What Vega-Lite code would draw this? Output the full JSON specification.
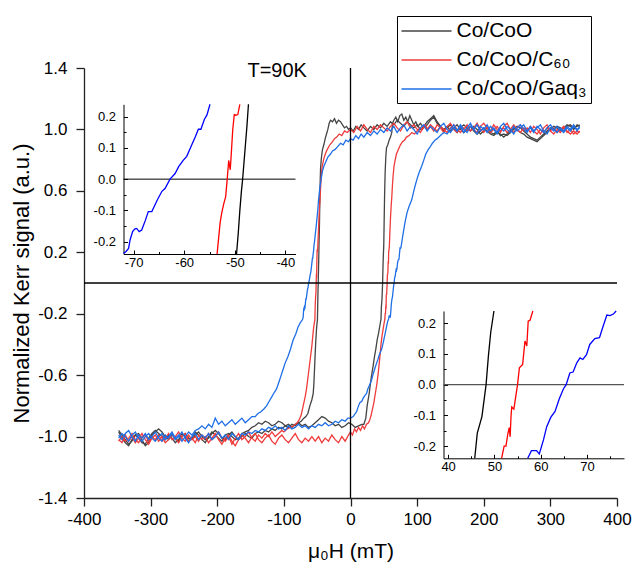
{
"$schema":"https://vega.github.io/schema/vega-lite/v6.json",
"width":533,"height":430,
"autosize":{"type":"none"},
"padding":{"left":84,"top":68,"right":17,"bottom":69},
"background":"white",
"config":{"font":"Liberation Sans","view":{"stroke":null},"axis":{"grid":false,"labelFlush":false,"labelOverlap":false,"labelBound":false,"labelColor":"black","titleColor":"black","titleFontWeight":"normal","domainColor":"#222222","tickColor":"#222222"}},
"datasets":{
"loops":[
{"s":"a","b":"u","h":-348,"m":-0.97},{"s":"a","b":"u","h":-343,"m":-1.01},{"s":"a","b":"u","h":-338,"m":-1.04},{"s":"a","b":"u","h":-333,"m":-1.06},{"s":"a","b":"u","h":-328,"m":-1.02},{"s":"a","b":"u","h":-323,"m":-0.99},{"s":"a","b":"u","h":-318,"m":-1.01},{"s":"a","b":"u","h":-313,"m":-1.04},{"s":"a","b":"u","h":-308,"m":-1.05},{"s":"a","b":"u","h":-303,"m":-1.01},{"s":"a","b":"u","h":-298,"m":-0.98},{"s":"a","b":"u","h":-293,"m":-0.96},{"s":"a","b":"u","h":-288,"m":-0.98},{"s":"a","b":"u","h":-283,"m":-1.0},{"s":"a","b":"u","h":-278,"m":-1.02},{"s":"a","b":"u","h":-273,"m":-0.99},{"s":"a","b":"u","h":-268,"m":-1.01},{"s":"a","b":"u","h":-263,"m":-1.04},{"s":"a","b":"u","h":-258,"m":-1.02},{"s":"a","b":"u","h":-253,"m":-0.98},{"s":"a","b":"u","h":-248,"m":-1.0},{"s":"a","b":"u","h":-243,"m":-1.03},{"s":"a","b":"u","h":-238,"m":-1.01},{"s":"a","b":"u","h":-233,"m":-0.97},{"s":"a","b":"u","h":-228,"m":-0.99},{"s":"a","b":"u","h":-223,"m":-1.02},{"s":"a","b":"u","h":-218,"m":-1.04},{"s":"a","b":"u","h":-213,"m":-1.0},{"s":"a","b":"u","h":-208,"m":-0.97},{"s":"a","b":"u","h":-203,"m":-0.99},{"s":"a","b":"u","h":-198,"m":-1.01},{"s":"a","b":"u","h":-193,"m":-1.03},{"s":"a","b":"u","h":-188,"m":-0.99},{"s":"a","b":"u","h":-183,"m":-0.98},{"s":"a","b":"u","h":-178,"m":-1.0},{"s":"a","b":"u","h":-173,"m":-1.02},{"s":"a","b":"u","h":-168,"m":-1.01},{"s":"a","b":"u","h":-163,"m":-0.98},{"s":"a","b":"u","h":-158,"m":-0.97},{"s":"a","b":"u","h":-153,"m":-0.96},{"s":"a","b":"u","h":-148,"m":-0.94},{"s":"a","b":"u","h":-143,"m":-0.93},{"s":"a","b":"u","h":-138,"m":-0.91},{"s":"a","b":"u","h":-133,"m":-0.92},{"s":"a","b":"u","h":-128,"m":-0.9},{"s":"a","b":"u","h":-123,"m":-0.91},{"s":"a","b":"u","h":-118,"m":-0.93},{"s":"a","b":"u","h":-113,"m":-0.92},{"s":"a","b":"u","h":-108,"m":-0.9},{"s":"a","b":"u","h":-103,"m":-0.91},{"s":"a","b":"u","h":-98,"m":-0.93},{"s":"a","b":"u","h":-93,"m":-0.92},{"s":"a","b":"u","h":-88,"m":-0.94},{"s":"a","b":"u","h":-83,"m":-0.92},{"s":"a","b":"u","h":-78,"m":-0.91},{"s":"a","b":"u","h":-73,"m":-0.93},{"s":"a","b":"u","h":-68,"m":-0.92},{"s":"a","b":"u","h":-63,"m":-0.94},{"s":"a","b":"u","h":-58,"m":-0.93},{"s":"a","b":"u","h":-53,"m":-0.91},{"s":"a","b":"u","h":-48,"m":-0.89},{"s":"a","b":"u","h":-43,"m":-0.87},{"s":"a","b":"u","h":-38,"m":-0.88},{"s":"a","b":"u","h":-33,"m":-0.9},{"s":"a","b":"u","h":-28,"m":-0.91},{"s":"a","b":"u","h":-23,"m":-0.93},{"s":"a","b":"u","h":-18,"m":-0.92},{"s":"a","b":"u","h":-13,"m":-0.94},{"s":"a","b":"u","h":-8,"m":-0.93},{"s":"a","b":"u","h":-3,"m":-0.91},{"s":"a","b":"u","h":2,"m":-0.92},{"s":"a","b":"u","h":7,"m":-0.94},{"s":"a","b":"u","h":12,"m":-0.93},{"s":"a","b":"u","h":17,"m":-0.92},{"s":"a","b":"u","h":20,"m":-0.92},{"s":"a","b":"u","h":23,"m":-0.88},{"s":"a","b":"u","h":25,"m":-0.8},{"s":"a","b":"u","h":28,"m":-0.72},{"s":"a","b":"u","h":31,"m":-0.62},{"s":"a","b":"u","h":34,"m":-0.54},{"s":"a","b":"u","h":36,"m":-0.48},{"s":"a","b":"u","h":38,"m":-0.43},{"s":"a","b":"u","h":40,"m":-0.37},{"s":"a","b":"u","h":42,"m":-0.33},{"s":"a","b":"u","h":44,"m":-0.28},{"s":"a","b":"u","h":45.8,"m":-0.234},{"s":"a","b":"u","h":46.3,"m":-0.158},{"s":"a","b":"u","h":47.3,"m":-0.104},{"s":"a","b":"u","h":48.2,"m":0},{"s":"a","b":"u","h":48.7,"m":0.093},{"s":"a","b":"u","h":49.2,"m":0.17},{"s":"a","b":"u","h":49.9,"m":0.24},{"s":"a","b":"u","h":50.5,"m":0.4},{"s":"a","b":"u","h":51.2,"m":0.58},{"s":"a","b":"u","h":52,"m":0.72},{"s":"a","b":"u","h":53,"m":0.82},{"s":"a","b":"u","h":54,"m":0.88},{"s":"a","b":"u","h":56,"m":0.9},{"s":"a","b":"u","h":58,"m":0.93},{"s":"a","b":"u","h":60,"m":0.95},{"s":"a","b":"u","h":62,"m":0.98},{"s":"a","b":"u","h":63,"m":1.04},{"s":"a","b":"u","h":65,"m":1.06},{"s":"a","b":"u","h":68,"m":1.08},{"s":"a","b":"u","h":71,"m":1.05},{"s":"a","b":"u","h":74,"m":1.09},{"s":"a","b":"u","h":77,"m":1.1},{"s":"a","b":"u","h":80,"m":1.06},{"s":"a","b":"u","h":83,"m":1.08},{"s":"a","b":"u","h":86,"m":1.05},{"s":"a","b":"u","h":89,"m":1.09},{"s":"a","b":"u","h":92,"m":1.06},{"s":"a","b":"u","h":95,"m":1.03},{"s":"a","b":"u","h":98,"m":1.05},{"s":"a","b":"u","h":101,"m":1.02},{"s":"a","b":"u","h":105,"m":1.04},{"s":"a","b":"u","h":110,"m":1.01},{"s":"a","b":"u","h":115,"m":1.03},{"s":"a","b":"u","h":120,"m":1.06},{"s":"a","b":"u","h":125,"m":1.08},{"s":"a","b":"u","h":130,"m":1.04},{"s":"a","b":"u","h":135,"m":1.02},{"s":"a","b":"u","h":140,"m":0.99},{"s":"a","b":"u","h":145,"m":1.01},{"s":"a","b":"u","h":150,"m":1.03},{"s":"a","b":"u","h":155,"m":1.0},{"s":"a","b":"u","h":160,"m":0.98},{"s":"a","b":"u","h":165,"m":1.01},{"s":"a","b":"u","h":170,"m":1.03},{"s":"a","b":"u","h":175,"m":1.01},{"s":"a","b":"u","h":180,"m":0.99},{"s":"a","b":"u","h":185,"m":1.02},{"s":"a","b":"u","h":190,"m":1.0},{"s":"a","b":"u","h":195,"m":0.97},{"s":"a","b":"u","h":200,"m":0.99},{"s":"a","b":"u","h":205,"m":1.01},{"s":"a","b":"u","h":210,"m":0.98},{"s":"a","b":"u","h":215,"m":0.97},{"s":"a","b":"u","h":220,"m":0.99},{"s":"a","b":"u","h":225,"m":0.96},{"s":"a","b":"u","h":230,"m":0.97},{"s":"a","b":"u","h":235,"m":0.96},{"s":"a","b":"u","h":240,"m":0.98},{"s":"a","b":"u","h":245,"m":1.0},{"s":"a","b":"u","h":250,"m":1.02},{"s":"a","b":"u","h":255,"m":1.01},{"s":"a","b":"u","h":260,"m":0.99},{"s":"a","b":"u","h":265,"m":0.97},{"s":"a","b":"u","h":270,"m":0.95},{"s":"a","b":"u","h":275,"m":0.94},{"s":"a","b":"u","h":280,"m":0.93},{"s":"a","b":"u","h":285,"m":0.95},{"s":"a","b":"u","h":290,"m":0.97},{"s":"a","b":"u","h":295,"m":0.99},{"s":"a","b":"u","h":300,"m":1.01},{"s":"a","b":"u","h":305,"m":1.0},{"s":"a","b":"u","h":310,"m":1.02},{"s":"a","b":"u","h":315,"m":1.01},{"s":"a","b":"u","h":320,"m":0.99},{"s":"a","b":"u","h":325,"m":1.02},{"s":"a","b":"u","h":330,"m":1.03},{"s":"a","b":"u","h":335,"m":1.01},{"s":"a","b":"u","h":340,"m":1.02},{"s":"a","b":"u","h":344,"m":1.03},
{"s":"a","b":"d","h":-348,"m":-0.96},{"s":"a","b":"d","h":-343,"m":-0.99},{"s":"a","b":"d","h":-338,"m":-1.02},{"s":"a","b":"d","h":-333,"m":-1.05},{"s":"a","b":"d","h":-328,"m":-1.03},{"s":"a","b":"d","h":-323,"m":-0.99},{"s":"a","b":"d","h":-318,"m":-0.98},{"s":"a","b":"d","h":-313,"m":-1.02},{"s":"a","b":"d","h":-308,"m":-1.06},{"s":"a","b":"d","h":-303,"m":-1.04},{"s":"a","b":"d","h":-298,"m":-0.99},{"s":"a","b":"d","h":-293,"m":-0.97},{"s":"a","b":"d","h":-288,"m":-0.95},{"s":"a","b":"d","h":-283,"m":-0.97},{"s":"a","b":"d","h":-278,"m":-1.0},{"s":"a","b":"d","h":-273,"m":-1.02},{"s":"a","b":"d","h":-268,"m":-0.99},{"s":"a","b":"d","h":-263,"m":-1.01},{"s":"a","b":"d","h":-258,"m":-1.03},{"s":"a","b":"d","h":-253,"m":-1.0},{"s":"a","b":"d","h":-248,"m":-0.98},{"s":"a","b":"d","h":-243,"m":-1.01},{"s":"a","b":"d","h":-238,"m":-1.02},{"s":"a","b":"d","h":-233,"m":-0.99},{"s":"a","b":"d","h":-228,"m":-0.97},{"s":"a","b":"d","h":-223,"m":-1.0},{"s":"a","b":"d","h":-218,"m":-1.02},{"s":"a","b":"d","h":-213,"m":-1.01},{"s":"a","b":"d","h":-208,"m":-0.98},{"s":"a","b":"d","h":-203,"m":-0.96},{"s":"a","b":"d","h":-198,"m":-0.98},{"s":"a","b":"d","h":-193,"m":-1.01},{"s":"a","b":"d","h":-188,"m":-1.02},{"s":"a","b":"d","h":-183,"m":-0.99},{"s":"a","b":"d","h":-178,"m":-0.97},{"s":"a","b":"d","h":-173,"m":-1.0},{"s":"a","b":"d","h":-168,"m":-1.02},{"s":"a","b":"d","h":-163,"m":-1.0},{"s":"a","b":"d","h":-158,"m":-0.98},{"s":"a","b":"d","h":-153,"m":-1.0},{"s":"a","b":"d","h":-148,"m":-1.01},{"s":"a","b":"d","h":-143,"m":-0.98},{"s":"a","b":"d","h":-138,"m":-0.97},{"s":"a","b":"d","h":-133,"m":-0.98},{"s":"a","b":"d","h":-128,"m":-0.96},{"s":"a","b":"d","h":-123,"m":-0.97},{"s":"a","b":"d","h":-118,"m":-0.95},{"s":"a","b":"d","h":-113,"m":-0.96},{"s":"a","b":"d","h":-108,"m":-0.94},{"s":"a","b":"d","h":-103,"m":-0.95},{"s":"a","b":"d","h":-98,"m":-0.93},{"s":"a","b":"d","h":-93,"m":-0.94},{"s":"a","b":"d","h":-88,"m":-0.92},{"s":"a","b":"d","h":-83,"m":-0.93},{"s":"a","b":"d","h":-78,"m":-0.91},{"s":"a","b":"d","h":-74,"m":-0.9},{"s":"a","b":"d","h":-70,"m":-0.88},{"s":"a","b":"d","h":-67,"m":-0.87},{"s":"a","b":"d","h":-64,"m":-0.85},{"s":"a","b":"d","h":-61,"m":-0.8},{"s":"a","b":"d","h":-58,"m":-0.76},{"s":"a","b":"d","h":-56,"m":-0.72},{"s":"a","b":"d","h":-55,"m":-0.66},{"s":"a","b":"d","h":-54,"m":-0.56},{"s":"a","b":"d","h":-53,"m":-0.46},{"s":"a","b":"d","h":-52,"m":-0.37},{"s":"a","b":"d","h":-51,"m":-0.3},{"s":"a","b":"d","h":-50.2,"m":-0.26},{"s":"a","b":"d","h":-49.65,"m":-0.24},{"s":"a","b":"d","h":-49.3,"m":-0.17},{"s":"a","b":"d","h":-49.0,"m":-0.1},{"s":"a","b":"d","h":-48.7,"m":-0.04},{"s":"a","b":"d","h":-48.45,"m":0},{"s":"a","b":"d","h":-48.2,"m":0.05},{"s":"a","b":"d","h":-47.9,"m":0.11},{"s":"a","b":"d","h":-47.6,"m":0.17},{"s":"a","b":"d","h":-47.3,"m":0.24},{"s":"a","b":"d","h":-46.5,"m":0.4},{"s":"a","b":"d","h":-46,"m":0.55},{"s":"a","b":"d","h":-45.5,"m":0.66},{"s":"a","b":"d","h":-45,"m":0.74},{"s":"a","b":"d","h":-44,"m":0.8},{"s":"a","b":"d","h":-43,"m":0.84},{"s":"a","b":"d","h":-42,"m":0.87},{"s":"a","b":"d","h":-40,"m":0.9},{"s":"a","b":"d","h":-38,"m":0.94},{"s":"a","b":"d","h":-36,"m":0.97},{"s":"a","b":"d","h":-34,"m":1.0},{"s":"a","b":"d","h":-32,"m":1.04},{"s":"a","b":"d","h":-30,"m":1.06},{"s":"a","b":"d","h":-27,"m":1.05},{"s":"a","b":"d","h":-24,"m":1.07},{"s":"a","b":"d","h":-21,"m":1.04},{"s":"a","b":"d","h":-18,"m":1.06},{"s":"a","b":"d","h":-15,"m":1.05},{"s":"a","b":"d","h":-12,"m":1.03},{"s":"a","b":"d","h":-9,"m":1.01},{"s":"a","b":"d","h":-6,"m":1.02},{"s":"a","b":"d","h":-3,"m":1.0},{"s":"a","b":"d","h":0,"m":1.01},{"s":"a","b":"d","h":4,"m":0.99},{"s":"a","b":"d","h":8,"m":1.02},{"s":"a","b":"d","h":12,"m":1.0},{"s":"a","b":"d","h":16,"m":1.03},{"s":"a","b":"d","h":20,"m":1.01},{"s":"a","b":"d","h":25,"m":0.99},{"s":"a","b":"d","h":30,"m":1.02},{"s":"a","b":"d","h":35,"m":1.0},{"s":"a","b":"d","h":40,"m":1.03},{"s":"a","b":"d","h":45,"m":1.01},{"s":"a","b":"d","h":50,"m":1.04},{"s":"a","b":"d","h":55,"m":1.02},{"s":"a","b":"d","h":60,"m":1.05},{"s":"a","b":"d","h":65,"m":1.03},{"s":"a","b":"d","h":70,"m":1.06},{"s":"a","b":"d","h":75,"m":1.04},{"s":"a","b":"d","h":80,"m":1.02},{"s":"a","b":"d","h":85,"m":1.05},{"s":"a","b":"d","h":90,"m":1.03},{"s":"a","b":"d","h":95,"m":1.01},{"s":"a","b":"d","h":100,"m":1.03},{"s":"a","b":"d","h":105,"m":1.0},{"s":"a","b":"d","h":110,"m":1.02},{"s":"a","b":"d","h":115,"m":1.05},{"s":"a","b":"d","h":120,"m":1.07},{"s":"a","b":"d","h":125,"m":1.09},{"s":"a","b":"d","h":130,"m":1.05},{"s":"a","b":"d","h":135,"m":1.02},{"s":"a","b":"d","h":140,"m":1.0},{"s":"a","b":"d","h":145,"m":1.02},{"s":"a","b":"d","h":150,"m":0.99},{"s":"a","b":"d","h":155,"m":1.01},{"s":"a","b":"d","h":160,"m":1.03},{"s":"a","b":"d","h":165,"m":1.0},{"s":"a","b":"d","h":170,"m":0.98},{"s":"a","b":"d","h":175,"m":1.0},{"s":"a","b":"d","h":180,"m":1.02},{"s":"a","b":"d","h":185,"m":0.99},{"s":"a","b":"d","h":190,"m":0.97},{"s":"a","b":"d","h":195,"m":0.99},{"s":"a","b":"d","h":200,"m":1.01},{"s":"a","b":"d","h":205,"m":0.99},{"s":"a","b":"d","h":210,"m":0.97},{"s":"a","b":"d","h":215,"m":0.96},{"s":"a","b":"d","h":220,"m":0.98},{"s":"a","b":"d","h":225,"m":0.97},{"s":"a","b":"d","h":230,"m":0.95},{"s":"a","b":"d","h":235,"m":0.97},{"s":"a","b":"d","h":240,"m":0.99},{"s":"a","b":"d","h":245,"m":1.01},{"s":"a","b":"d","h":250,"m":1.0},{"s":"a","b":"d","h":255,"m":0.98},{"s":"a","b":"d","h":260,"m":0.97},{"s":"a","b":"d","h":265,"m":0.95},{"s":"a","b":"d","h":270,"m":0.94},{"s":"a","b":"d","h":275,"m":0.93},{"s":"a","b":"d","h":280,"m":0.92},{"s":"a","b":"d","h":285,"m":0.94},{"s":"a","b":"d","h":290,"m":0.96},{"s":"a","b":"d","h":295,"m":0.98},{"s":"a","b":"d","h":300,"m":1.0},{"s":"a","b":"d","h":305,"m":1.02},{"s":"a","b":"d","h":310,"m":1.01},{"s":"a","b":"d","h":315,"m":0.99},{"s":"a","b":"d","h":320,"m":1.01},{"s":"a","b":"d","h":325,"m":1.03},{"s":"a","b":"d","h":330,"m":1.02},{"s":"a","b":"d","h":335,"m":1.0},{"s":"a","b":"d","h":340,"m":1.03},{"s":"a","b":"d","h":344,"m":1.02},
{"s":"b","b":"u","h":-348,"m":-1.02},{"s":"b","b":"u","h":-343,"m":-1.04},{"s":"b","b":"u","h":-338,"m":-0.99},{"s":"b","b":"u","h":-333,"m":-1.03},{"s":"b","b":"u","h":-328,"m":-1.0},{"s":"b","b":"u","h":-323,"m":-1.04},{"s":"b","b":"u","h":-318,"m":-1.01},{"s":"b","b":"u","h":-313,"m":-0.98},{"s":"b","b":"u","h":-308,"m":-1.02},{"s":"b","b":"u","h":-303,"m":-1.05},{"s":"b","b":"u","h":-298,"m":-1.01},{"s":"b","b":"u","h":-293,"m":-0.99},{"s":"b","b":"u","h":-288,"m":-1.03},{"s":"b","b":"u","h":-283,"m":-1.0},{"s":"b","b":"u","h":-278,"m":-1.04},{"s":"b","b":"u","h":-273,"m":-1.02},{"s":"b","b":"u","h":-268,"m":-0.98},{"s":"b","b":"u","h":-263,"m":-1.01},{"s":"b","b":"u","h":-258,"m":-1.04},{"s":"b","b":"u","h":-253,"m":-1.0},{"s":"b","b":"u","h":-248,"m":-0.98},{"s":"b","b":"u","h":-243,"m":-1.03},{"s":"b","b":"u","h":-238,"m":-1.01},{"s":"b","b":"u","h":-233,"m":-1.04},{"s":"b","b":"u","h":-228,"m":-0.99},{"s":"b","b":"u","h":-223,"m":-1.02},{"s":"b","b":"u","h":-218,"m":-1.0},{"s":"b","b":"u","h":-213,"m":-1.04},{"s":"b","b":"u","h":-208,"m":-1.01},{"s":"b","b":"u","h":-203,"m":-0.98},{"s":"b","b":"u","h":-198,"m":-1.02},{"s":"b","b":"u","h":-193,"m":-1.05},{"s":"b","b":"u","h":-188,"m":-1.01},{"s":"b","b":"u","h":-183,"m":-0.99},{"s":"b","b":"u","h":-178,"m":-1.03},{"s":"b","b":"u","h":-173,"m":-1.06},{"s":"b","b":"u","h":-168,"m":-1.02},{"s":"b","b":"u","h":-163,"m":-0.99},{"s":"b","b":"u","h":-158,"m":-1.01},{"s":"b","b":"u","h":-153,"m":-1.04},{"s":"b","b":"u","h":-148,"m":-1.0},{"s":"b","b":"u","h":-143,"m":-0.98},{"s":"b","b":"u","h":-138,"m":-1.02},{"s":"b","b":"u","h":-133,"m":-1.04},{"s":"b","b":"u","h":-128,"m":-1.01},{"s":"b","b":"u","h":-123,"m":-0.99},{"s":"b","b":"u","h":-118,"m":-1.03},{"s":"b","b":"u","h":-113,"m":-1.05},{"s":"b","b":"u","h":-108,"m":-1.01},{"s":"b","b":"u","h":-103,"m":-0.99},{"s":"b","b":"u","h":-98,"m":-1.02},{"s":"b","b":"u","h":-93,"m":-1.04},{"s":"b","b":"u","h":-88,"m":-1.01},{"s":"b","b":"u","h":-83,"m":-0.98},{"s":"b","b":"u","h":-78,"m":-1.02},{"s":"b","b":"u","h":-73,"m":-1.04},{"s":"b","b":"u","h":-68,"m":-1.01},{"s":"b","b":"u","h":-63,"m":-1.03},{"s":"b","b":"u","h":-58,"m":-1.0},{"s":"b","b":"u","h":-53,"m":-1.03},{"s":"b","b":"u","h":-48,"m":-1.0},{"s":"b","b":"u","h":-43,"m":-1.04},{"s":"b","b":"u","h":-38,"m":-1.01},{"s":"b","b":"u","h":-33,"m":-1.03},{"s":"b","b":"u","h":-28,"m":-0.99},{"s":"b","b":"u","h":-23,"m":-1.02},{"s":"b","b":"u","h":-18,"m":-1.04},{"s":"b","b":"u","h":-13,"m":-1.0},{"s":"b","b":"u","h":-8,"m":-1.03},{"s":"b","b":"u","h":-3,"m":-0.99},{"s":"b","b":"u","h":0,"m":-0.97},{"s":"b","b":"u","h":3,"m":-0.99},{"s":"b","b":"u","h":6,"m":-0.95},{"s":"b","b":"u","h":9,"m":-0.97},{"s":"b","b":"u","h":12,"m":-0.94},{"s":"b","b":"u","h":15,"m":-0.96},{"s":"b","b":"u","h":18,"m":-0.93},{"s":"b","b":"u","h":21,"m":-0.95},{"s":"b","b":"u","h":24,"m":-0.92},{"s":"b","b":"u","h":27,"m":-0.91},{"s":"b","b":"u","h":29,"m":-0.89},{"s":"b","b":"u","h":31,"m":-0.86},{"s":"b","b":"u","h":33,"m":-0.82},{"s":"b","b":"u","h":35,"m":-0.78},{"s":"b","b":"u","h":36.5,"m":-0.74},{"s":"b","b":"u","h":38,"m":-0.7},{"s":"b","b":"u","h":39.5,"m":-0.66},{"s":"b","b":"u","h":41.5,"m":-0.59},{"s":"b","b":"u","h":43,"m":-0.53},{"s":"b","b":"u","h":44.5,"m":-0.46},{"s":"b","b":"u","h":46,"m":-0.39},{"s":"b","b":"u","h":47.5,"m":-0.34},{"s":"b","b":"u","h":49,"m":-0.3},{"s":"b","b":"u","h":50.5,"m":-0.26},{"s":"b","b":"u","h":51.6,"m":-0.234},{"s":"b","b":"u","h":52.1,"m":-0.2},{"s":"b","b":"u","h":52.5,"m":-0.2},{"s":"b","b":"u","h":52.9,"m":-0.16},{"s":"b","b":"u","h":53.2,"m":-0.14},{"s":"b","b":"u","h":53.4,"m":-0.17},{"s":"b","b":"u","h":53.6,"m":-0.1},{"s":"b","b":"u","h":53.75,"m":-0.073},{"s":"b","b":"u","h":54.2,"m":-0.08},{"s":"b","b":"u","h":55,"m":0},{"s":"b","b":"u","h":55.4,"m":0.055},{"s":"b","b":"u","h":56.1,"m":0.066},{"s":"b","b":"u","h":56.6,"m":0.142},{"s":"b","b":"u","h":57,"m":0.126},{"s":"b","b":"u","h":57.3,"m":0.207},{"s":"b","b":"u","h":57.7,"m":0.21},{"s":"b","b":"u","h":58.3,"m":0.24},{"s":"b","b":"u","h":59,"m":0.32},{"s":"b","b":"u","h":60,"m":0.42},{"s":"b","b":"u","h":61,"m":0.5},{"s":"b","b":"u","h":62,"m":0.56},{"s":"b","b":"u","h":63,"m":0.64},{"s":"b","b":"u","h":64,"m":0.7},{"s":"b","b":"u","h":65.3,"m":0.76},{"s":"b","b":"u","h":67,"m":0.8},{"s":"b","b":"u","h":69,"m":0.84},{"s":"b","b":"u","h":71.8,"m":0.87},{"s":"b","b":"u","h":75,"m":0.9},{"s":"b","b":"u","h":78,"m":0.92},{"s":"b","b":"u","h":81,"m":0.93},{"s":"b","b":"u","h":84,"m":0.95},{"s":"b","b":"u","h":88,"m":0.96},{"s":"b","b":"u","h":92,"m":0.98},{"s":"b","b":"u","h":96,"m":0.97},{"s":"b","b":"u","h":100,"m":0.99},{"s":"b","b":"u","h":104,"m":1.01},{"s":"b","b":"u","h":108,"m":1.0},{"s":"b","b":"u","h":112,"m":1.03},{"s":"b","b":"u","h":116,"m":1.0},{"s":"b","b":"u","h":120,"m":1.02},{"s":"b","b":"u","h":125,"m":0.99},{"s":"b","b":"u","h":130,"m":1.03},{"s":"b","b":"u","h":135,"m":1.01},{"s":"b","b":"u","h":140,"m":0.98},{"s":"b","b":"u","h":145,"m":1.02},{"s":"b","b":"u","h":150,"m":1.04},{"s":"b","b":"u","h":155,"m":1.0},{"s":"b","b":"u","h":160,"m":0.98},{"s":"b","b":"u","h":165,"m":1.02},{"s":"b","b":"u","h":170,"m":1.0},{"s":"b","b":"u","h":175,"m":1.03},{"s":"b","b":"u","h":180,"m":0.99},{"s":"b","b":"u","h":185,"m":1.01},{"s":"b","b":"u","h":190,"m":1.04},{"s":"b","b":"u","h":195,"m":1.0},{"s":"b","b":"u","h":200,"m":0.98},{"s":"b","b":"u","h":205,"m":1.02},{"s":"b","b":"u","h":210,"m":0.99},{"s":"b","b":"u","h":215,"m":1.03},{"s":"b","b":"u","h":220,"m":1.0},{"s":"b","b":"u","h":225,"m":0.98},{"s":"b","b":"u","h":230,"m":1.02},{"s":"b","b":"u","h":235,"m":1.04},{"s":"b","b":"u","h":240,"m":1.0},{"s":"b","b":"u","h":245,"m":0.98},{"s":"b","b":"u","h":250,"m":1.01},{"s":"b","b":"u","h":255,"m":1.03},{"s":"b","b":"u","h":260,"m":0.99},{"s":"b","b":"u","h":265,"m":1.01},{"s":"b","b":"u","h":270,"m":0.98},{"s":"b","b":"u","h":275,"m":1.02},{"s":"b","b":"u","h":280,"m":1.0},{"s":"b","b":"u","h":285,"m":0.97},{"s":"b","b":"u","h":290,"m":1.01},{"s":"b","b":"u","h":295,"m":1.03},{"s":"b","b":"u","h":300,"m":0.99},{"s":"b","b":"u","h":305,"m":1.01},{"s":"b","b":"u","h":310,"m":0.98},{"s":"b","b":"u","h":315,"m":1.0},{"s":"b","b":"u","h":320,"m":1.02},{"s":"b","b":"u","h":325,"m":0.98},{"s":"b","b":"u","h":330,"m":1.0},{"s":"b","b":"u","h":335,"m":0.97},{"s":"b","b":"u","h":340,"m":0.99},{"s":"b","b":"u","h":344,"m":0.98},
{"s":"b","b":"d","h":-348,"m":-1.03},{"s":"b","b":"d","h":-343,"m":-1.0},{"s":"b","b":"d","h":-338,"m":-1.03},{"s":"b","b":"d","h":-333,"m":-1.01},{"s":"b","b":"d","h":-328,"m":-0.98},{"s":"b","b":"d","h":-323,"m":-1.02},{"s":"b","b":"d","h":-318,"m":-1.04},{"s":"b","b":"d","h":-313,"m":-1.0},{"s":"b","b":"d","h":-308,"m":-0.99},{"s":"b","b":"d","h":-303,"m":-1.03},{"s":"b","b":"d","h":-298,"m":-1.0},{"s":"b","b":"d","h":-293,"m":-1.02},{"s":"b","b":"d","h":-288,"m":-0.99},{"s":"b","b":"d","h":-283,"m":-1.03},{"s":"b","b":"d","h":-278,"m":-1.01},{"s":"b","b":"d","h":-273,"m":-0.98},{"s":"b","b":"d","h":-268,"m":-1.02},{"s":"b","b":"d","h":-263,"m":-1.0},{"s":"b","b":"d","h":-258,"m":-0.97},{"s":"b","b":"d","h":-253,"m":-1.01},{"s":"b","b":"d","h":-248,"m":-1.03},{"s":"b","b":"d","h":-243,"m":-0.99},{"s":"b","b":"d","h":-238,"m":-1.02},{"s":"b","b":"d","h":-233,"m":-1.0},{"s":"b","b":"d","h":-228,"m":-1.03},{"s":"b","b":"d","h":-223,"m":-0.99},{"s":"b","b":"d","h":-218,"m":-1.01},{"s":"b","b":"d","h":-213,"m":-0.98},{"s":"b","b":"d","h":-208,"m":-1.02},{"s":"b","b":"d","h":-203,"m":-1.0},{"s":"b","b":"d","h":-198,"m":-0.97},{"s":"b","b":"d","h":-193,"m":-1.01},{"s":"b","b":"d","h":-188,"m":-1.03},{"s":"b","b":"d","h":-183,"m":-1.0},{"s":"b","b":"d","h":-178,"m":-1.05},{"s":"b","b":"d","h":-173,"m":-1.01},{"s":"b","b":"d","h":-168,"m":-0.98},{"s":"b","b":"d","h":-163,"m":-1.02},{"s":"b","b":"d","h":-158,"m":-1.0},{"s":"b","b":"d","h":-153,"m":-0.97},{"s":"b","b":"d","h":-148,"m":-1.01},{"s":"b","b":"d","h":-143,"m":-1.03},{"s":"b","b":"d","h":-138,"m":-0.99},{"s":"b","b":"d","h":-133,"m":-1.01},{"s":"b","b":"d","h":-128,"m":-0.98},{"s":"b","b":"d","h":-123,"m":-1.0},{"s":"b","b":"d","h":-118,"m":-0.97},{"s":"b","b":"d","h":-113,"m":-1.0},{"s":"b","b":"d","h":-108,"m":-0.98},{"s":"b","b":"d","h":-103,"m":-0.96},{"s":"b","b":"d","h":-100,"m":-0.97},{"s":"b","b":"d","h":-95,"m":-0.95},{"s":"b","b":"d","h":-90,"m":-0.94},{"s":"b","b":"d","h":-85,"m":-0.93},{"s":"b","b":"d","h":-80,"m":-0.91},{"s":"b","b":"d","h":-77,"m":-0.89},{"s":"b","b":"d","h":-74,"m":-0.86},{"s":"b","b":"d","h":-71,"m":-0.8},{"s":"b","b":"d","h":-68,"m":-0.74},{"s":"b","b":"d","h":-66,"m":-0.69},{"s":"b","b":"d","h":-64,"m":-0.62},{"s":"b","b":"d","h":-62,"m":-0.55},{"s":"b","b":"d","h":-60,"m":-0.48},{"s":"b","b":"d","h":-58,"m":-0.41},{"s":"b","b":"d","h":-56.5,"m":-0.34},{"s":"b","b":"d","h":-55.3,"m":-0.29},{"s":"b","b":"d","h":-54.3,"m":-0.26},{"s":"b","b":"d","h":-53.5,"m":-0.24},{"s":"b","b":"d","h":-53.2,"m":-0.19},{"s":"b","b":"d","h":-52.9,"m":-0.14},{"s":"b","b":"d","h":-52.6,"m":-0.11},{"s":"b","b":"d","h":-52.2,"m":-0.08},{"s":"b","b":"d","h":-51.8,"m":-0.056},{"s":"b","b":"d","h":-51.5,"m":0},{"s":"b","b":"d","h":-51.3,"m":0.04},{"s":"b","b":"d","h":-51.2,"m":0.06},{"s":"b","b":"d","h":-50.9,"m":0.03},{"s":"b","b":"d","h":-50.7,"m":0.08},{"s":"b","b":"d","h":-50.4,"m":0.16},{"s":"b","b":"d","h":-50.1,"m":0.207},{"s":"b","b":"d","h":-49.8,"m":0.205},{"s":"b","b":"d","h":-49.4,"m":0.207},{"s":"b","b":"d","h":-49.0,"m":0.244},{"s":"b","b":"d","h":-48.5,"m":0.3},{"s":"b","b":"d","h":-47.5,"m":0.4},{"s":"b","b":"d","h":-46.5,"m":0.5},{"s":"b","b":"d","h":-45.8,"m":0.54},{"s":"b","b":"d","h":-44.5,"m":0.65},{"s":"b","b":"d","h":-43.5,"m":0.72},{"s":"b","b":"d","h":-42.5,"m":0.76},{"s":"b","b":"d","h":-40,"m":0.81},{"s":"b","b":"d","h":-37,"m":0.85},{"s":"b","b":"d","h":-34.8,"m":0.87},{"s":"b","b":"d","h":-31,"m":0.9},{"s":"b","b":"d","h":-27,"m":0.92},{"s":"b","b":"d","h":-24,"m":0.94},{"s":"b","b":"d","h":-20.7,"m":0.95},{"s":"b","b":"d","h":-17,"m":0.97},{"s":"b","b":"d","h":-13,"m":0.96},{"s":"b","b":"d","h":-9,"m":0.99},{"s":"b","b":"d","h":-5,"m":0.98},{"s":"b","b":"d","h":0,"m":1.0},{"s":"b","b":"d","h":5,"m":0.98},{"s":"b","b":"d","h":10,"m":1.02},{"s":"b","b":"d","h":15,"m":0.99},{"s":"b","b":"d","h":20,"m":1.03},{"s":"b","b":"d","h":25,"m":1.0},{"s":"b","b":"d","h":30,"m":0.98},{"s":"b","b":"d","h":35,"m":1.02},{"s":"b","b":"d","h":40,"m":1.0},{"s":"b","b":"d","h":45,"m":1.03},{"s":"b","b":"d","h":50,"m":1.01},{"s":"b","b":"d","h":55,"m":0.99},{"s":"b","b":"d","h":60,"m":1.02},{"s":"b","b":"d","h":65,"m":1.04},{"s":"b","b":"d","h":70,"m":1.01},{"s":"b","b":"d","h":75,"m":0.99},{"s":"b","b":"d","h":80,"m":1.03},{"s":"b","b":"d","h":85,"m":1.05},{"s":"b","b":"d","h":90,"m":1.01},{"s":"b","b":"d","h":95,"m":1.03},{"s":"b","b":"d","h":100,"m":1.0},{"s":"b","b":"d","h":105,"m":0.98},{"s":"b","b":"d","h":110,"m":1.02},{"s":"b","b":"d","h":115,"m":1.0},{"s":"b","b":"d","h":120,"m":1.03},{"s":"b","b":"d","h":125,"m":1.01},{"s":"b","b":"d","h":130,"m":0.99},{"s":"b","b":"d","h":135,"m":1.02},{"s":"b","b":"d","h":140,"m":1.0},{"s":"b","b":"d","h":145,"m":0.98},{"s":"b","b":"d","h":150,"m":1.01},{"s":"b","b":"d","h":155,"m":1.03},{"s":"b","b":"d","h":160,"m":1.0},{"s":"b","b":"d","h":165,"m":0.98},{"s":"b","b":"d","h":170,"m":1.01},{"s":"b","b":"d","h":175,"m":0.99},{"s":"b","b":"d","h":180,"m":1.02},{"s":"b","b":"d","h":185,"m":1.0},{"s":"b","b":"d","h":190,"m":0.98},{"s":"b","b":"d","h":195,"m":1.02},{"s":"b","b":"d","h":200,"m":1.04},{"s":"b","b":"d","h":205,"m":1.01},{"s":"b","b":"d","h":210,"m":0.98},{"s":"b","b":"d","h":215,"m":1.0},{"s":"b","b":"d","h":220,"m":1.02},{"s":"b","b":"d","h":225,"m":0.99},{"s":"b","b":"d","h":230,"m":1.01},{"s":"b","b":"d","h":235,"m":0.98},{"s":"b","b":"d","h":240,"m":1.0},{"s":"b","b":"d","h":245,"m":1.03},{"s":"b","b":"d","h":250,"m":1.0},{"s":"b","b":"d","h":255,"m":0.98},{"s":"b","b":"d","h":260,"m":1.01},{"s":"b","b":"d","h":265,"m":0.99},{"s":"b","b":"d","h":270,"m":1.02},{"s":"b","b":"d","h":275,"m":0.99},{"s":"b","b":"d","h":280,"m":0.97},{"s":"b","b":"d","h":285,"m":1.0},{"s":"b","b":"d","h":290,"m":0.98},{"s":"b","b":"d","h":295,"m":1.01},{"s":"b","b":"d","h":300,"m":0.99},{"s":"b","b":"d","h":305,"m":0.97},{"s":"b","b":"d","h":310,"m":1.0},{"s":"b","b":"d","h":315,"m":0.98},{"s":"b","b":"d","h":320,"m":1.01},{"s":"b","b":"d","h":325,"m":0.99},{"s":"b","b":"d","h":330,"m":0.97},{"s":"b","b":"d","h":335,"m":0.99},{"s":"b","b":"d","h":340,"m":0.97},{"s":"b","b":"d","h":344,"m":0.99},
{"s":"c","b":"u","h":-348,"m":-0.99},{"s":"c","b":"u","h":-343,"m":-1.02},{"s":"c","b":"u","h":-338,"m":-0.98},{"s":"c","b":"u","h":-333,"m":-0.96},{"s":"c","b":"u","h":-328,"m":-1.0},{"s":"c","b":"u","h":-323,"m":-1.03},{"s":"c","b":"u","h":-318,"m":-0.99},{"s":"c","b":"u","h":-313,"m":-1.01},{"s":"c","b":"u","h":-308,"m":-0.98},{"s":"c","b":"u","h":-303,"m":-1.02},{"s":"c","b":"u","h":-298,"m":-1.0},{"s":"c","b":"u","h":-293,"m":-0.97},{"s":"c","b":"u","h":-288,"m":-1.01},{"s":"c","b":"u","h":-283,"m":-1.03},{"s":"c","b":"u","h":-278,"m":-0.99},{"s":"c","b":"u","h":-273,"m":-1.01},{"s":"c","b":"u","h":-268,"m":-0.98},{"s":"c","b":"u","h":-263,"m":-1.02},{"s":"c","b":"u","h":-258,"m":-1.0},{"s":"c","b":"u","h":-253,"m":-0.97},{"s":"c","b":"u","h":-248,"m":-1.01},{"s":"c","b":"u","h":-243,"m":-1.04},{"s":"c","b":"u","h":-238,"m":-1.0},{"s":"c","b":"u","h":-233,"m":-0.98},{"s":"c","b":"u","h":-228,"m":-1.02},{"s":"c","b":"u","h":-223,"m":-0.99},{"s":"c","b":"u","h":-218,"m":-1.01},{"s":"c","b":"u","h":-213,"m":-0.98},{"s":"c","b":"u","h":-208,"m":-1.02},{"s":"c","b":"u","h":-203,"m":-1.0},{"s":"c","b":"u","h":-198,"m":-0.97},{"s":"c","b":"u","h":-193,"m":-1.01},{"s":"c","b":"u","h":-188,"m":-0.99},{"s":"c","b":"u","h":-183,"m":-1.02},{"s":"c","b":"u","h":-178,"m":-0.98},{"s":"c","b":"u","h":-173,"m":-1.0},{"s":"c","b":"u","h":-168,"m":-1.02},{"s":"c","b":"u","h":-163,"m":-0.98},{"s":"c","b":"u","h":-158,"m":-0.99},{"s":"c","b":"u","h":-153,"m":-0.97},{"s":"c","b":"u","h":-148,"m":-0.98},{"s":"c","b":"u","h":-143,"m":-0.96},{"s":"c","b":"u","h":-138,"m":-0.97},{"s":"c","b":"u","h":-133,"m":-0.95},{"s":"c","b":"u","h":-128,"m":-0.96},{"s":"c","b":"u","h":-123,"m":-0.94},{"s":"c","b":"u","h":-118,"m":-0.95},{"s":"c","b":"u","h":-113,"m":-0.93},{"s":"c","b":"u","h":-108,"m":-0.95},{"s":"c","b":"u","h":-103,"m":-0.94},{"s":"c","b":"u","h":-98,"m":-0.96},{"s":"c","b":"u","h":-93,"m":-0.93},{"s":"c","b":"u","h":-88,"m":-0.95},{"s":"c","b":"u","h":-83,"m":-0.94},{"s":"c","b":"u","h":-78,"m":-0.92},{"s":"c","b":"u","h":-73,"m":-0.94},{"s":"c","b":"u","h":-68,"m":-0.93},{"s":"c","b":"u","h":-63,"m":-0.95},{"s":"c","b":"u","h":-58,"m":-0.93},{"s":"c","b":"u","h":-53,"m":-0.94},{"s":"c","b":"u","h":-48,"m":-0.92},{"s":"c","b":"u","h":-43,"m":-0.93},{"s":"c","b":"u","h":-38,"m":-0.91},{"s":"c","b":"u","h":-33,"m":-0.93},{"s":"c","b":"u","h":-28,"m":-0.92},{"s":"c","b":"u","h":-23,"m":-0.9},{"s":"c","b":"u","h":-18,"m":-0.91},{"s":"c","b":"u","h":-13,"m":-0.89},{"s":"c","b":"u","h":-8,"m":-0.9},{"s":"c","b":"u","h":-4,"m":-0.88},{"s":"c","b":"u","h":0,"m":-0.88},{"s":"c","b":"u","h":4,"m":-0.87},{"s":"c","b":"u","h":7,"m":-0.85},{"s":"c","b":"u","h":9,"m":-0.84},{"s":"c","b":"u","h":12,"m":-0.8},{"s":"c","b":"u","h":14,"m":-0.78},{"s":"c","b":"u","h":17,"m":-0.77},{"s":"c","b":"u","h":19,"m":-0.75},{"s":"c","b":"u","h":22,"m":-0.73},{"s":"c","b":"u","h":24,"m":-0.72},{"s":"c","b":"u","h":26,"m":-0.69},{"s":"c","b":"u","h":28,"m":-0.67},{"s":"c","b":"u","h":30,"m":-0.65},{"s":"c","b":"u","h":31.8,"m":-0.63},{"s":"c","b":"u","h":33.5,"m":-0.6},{"s":"c","b":"u","h":35,"m":-0.58},{"s":"c","b":"u","h":37,"m":-0.55},{"s":"c","b":"u","h":39.3,"m":-0.52},{"s":"c","b":"u","h":41,"m":-0.5},{"s":"c","b":"u","h":43,"m":-0.47},{"s":"c","b":"u","h":45,"m":-0.45},{"s":"c","b":"u","h":46.8,"m":-0.43},{"s":"c","b":"u","h":48.5,"m":-0.4},{"s":"c","b":"u","h":50,"m":-0.37},{"s":"c","b":"u","h":52,"m":-0.33},{"s":"c","b":"u","h":54.3,"m":-0.28},{"s":"c","b":"u","h":55.8,"m":-0.25},{"s":"c","b":"u","h":57.3,"m":-0.234},{"s":"c","b":"u","h":58.0,"m":-0.215},{"s":"c","b":"u","h":59.1,"m":-0.215},{"s":"c","b":"u","h":59.7,"m":-0.226},{"s":"c","b":"u","h":60.6,"m":-0.18},{"s":"c","b":"u","h":61.3,"m":-0.137},{"s":"c","b":"u","h":62.2,"m":-0.106},{"s":"c","b":"u","h":63.1,"m":-0.087},{"s":"c","b":"u","h":64.0,"m":-0.047},{"s":"c","b":"u","h":64.9,"m":-0.014},{"s":"c","b":"u","h":65.5,"m":0},{"s":"c","b":"u","h":66.3,"m":0.038},{"s":"c","b":"u","h":67.0,"m":0.041},{"s":"c","b":"u","h":67.8,"m":0.071},{"s":"c","b":"u","h":68.5,"m":0.087},{"s":"c","b":"u","h":69.1,"m":0.082},{"s":"c","b":"u","h":69.9,"m":0.098},{"s":"c","b":"u","h":70.6,"m":0.131},{"s":"c","b":"u","h":71.7,"m":0.15},{"s":"c","b":"u","h":72.7,"m":0.153},{"s":"c","b":"u","h":73.4,"m":0.186},{"s":"c","b":"u","h":74.3,"m":0.227},{"s":"c","b":"u","h":75.0,"m":0.225},{"s":"c","b":"u","h":75.7,"m":0.23},{"s":"c","b":"u","h":76.3,"m":0.246},{"s":"c","b":"u","h":77.5,"m":0.28},{"s":"c","b":"u","h":79.3,"m":0.33},{"s":"c","b":"u","h":82,"m":0.4},{"s":"c","b":"u","h":85,"m":0.46},{"s":"c","b":"u","h":88,"m":0.5},{"s":"c","b":"u","h":91.8,"m":0.54},{"s":"c","b":"u","h":94,"m":0.58},{"s":"c","b":"u","h":96.8,"m":0.63},{"s":"c","b":"u","h":100,"m":0.68},{"s":"c","b":"u","h":103,"m":0.72},{"s":"c","b":"u","h":106.8,"m":0.76},{"s":"c","b":"u","h":110,"m":0.8},{"s":"c","b":"u","h":113,"m":0.84},{"s":"c","b":"u","h":116.8,"m":0.87},{"s":"c","b":"u","h":120,"m":0.89},{"s":"c","b":"u","h":123,"m":0.91},{"s":"c","b":"u","h":126.8,"m":0.93},{"s":"c","b":"u","h":130,"m":0.94},{"s":"c","b":"u","h":135,"m":0.96},{"s":"c","b":"u","h":140,"m":0.98},{"s":"c","b":"u","h":145,"m":0.97},{"s":"c","b":"u","h":150,"m":1.0},{"s":"c","b":"u","h":155,"m":1.03},{"s":"c","b":"u","h":160,"m":0.99},{"s":"c","b":"u","h":165,"m":1.02},{"s":"c","b":"u","h":170,"m":0.98},{"s":"c","b":"u","h":175,"m":1.01},{"s":"c","b":"u","h":180,"m":1.04},{"s":"c","b":"u","h":185,"m":1.0},{"s":"c","b":"u","h":190,"m":0.97},{"s":"c","b":"u","h":195,"m":1.02},{"s":"c","b":"u","h":200,"m":1.0},{"s":"c","b":"u","h":205,"m":1.03},{"s":"c","b":"u","h":210,"m":0.99},{"s":"c","b":"u","h":215,"m":1.01},{"s":"c","b":"u","h":220,"m":0.98},{"s":"c","b":"u","h":225,"m":1.02},{"s":"c","b":"u","h":230,"m":1.04},{"s":"c","b":"u","h":235,"m":1.0},{"s":"c","b":"u","h":240,"m":0.98},{"s":"c","b":"u","h":245,"m":1.02},{"s":"c","b":"u","h":250,"m":0.99},{"s":"c","b":"u","h":255,"m":1.01},{"s":"c","b":"u","h":260,"m":1.03},{"s":"c","b":"u","h":265,"m":0.99},{"s":"c","b":"u","h":270,"m":1.01},{"s":"c","b":"u","h":275,"m":0.98},{"s":"c","b":"u","h":280,"m":1.02},{"s":"c","b":"u","h":285,"m":1.0},{"s":"c","b":"u","h":290,"m":0.98},{"s":"c","b":"u","h":295,"m":1.01},{"s":"c","b":"u","h":300,"m":1.03},{"s":"c","b":"u","h":305,"m":1.0},{"s":"c","b":"u","h":310,"m":0.98},{"s":"c","b":"u","h":315,"m":1.01},{"s":"c","b":"u","h":320,"m":0.99},{"s":"c","b":"u","h":325,"m":1.02},{"s":"c","b":"u","h":330,"m":1.0},{"s":"c","b":"u","h":335,"m":1.03},{"s":"c","b":"u","h":340,"m":0.99},{"s":"c","b":"u","h":344,"m":1.02},
{"s":"c","b":"d","h":-348,"m":-1.01},{"s":"c","b":"d","h":-343,"m":-0.98},{"s":"c","b":"d","h":-338,"m":-1.0},{"s":"c","b":"d","h":-333,"m":-1.03},{"s":"c","b":"d","h":-328,"m":-0.99},{"s":"c","b":"d","h":-323,"m":-0.97},{"s":"c","b":"d","h":-318,"m":-1.01},{"s":"c","b":"d","h":-313,"m":-1.03},{"s":"c","b":"d","h":-308,"m":-1.0},{"s":"c","b":"d","h":-303,"m":-0.98},{"s":"c","b":"d","h":-298,"m":-1.01},{"s":"c","b":"d","h":-293,"m":-1.03},{"s":"c","b":"d","h":-288,"m":-1.0},{"s":"c","b":"d","h":-283,"m":-0.98},{"s":"c","b":"d","h":-278,"m":-1.02},{"s":"c","b":"d","h":-273,"m":-1.0},{"s":"c","b":"d","h":-268,"m":-0.97},{"s":"c","b":"d","h":-263,"m":-1.01},{"s":"c","b":"d","h":-258,"m":-0.99},{"s":"c","b":"d","h":-253,"m":-1.03},{"s":"c","b":"d","h":-248,"m":-1.0},{"s":"c","b":"d","h":-243,"m":-0.97},{"s":"c","b":"d","h":-238,"m":-0.99},{"s":"c","b":"d","h":-233,"m":-0.96},{"s":"c","b":"d","h":-228,"m":-0.95},{"s":"c","b":"d","h":-223,"m":-0.93},{"s":"c","b":"d","h":-218,"m":-0.95},{"s":"c","b":"d","h":-213,"m":-0.92},{"s":"c","b":"d","h":-208,"m":-0.94},{"s":"c","b":"d","h":-203,"m":-0.88},{"s":"c","b":"d","h":-198,"m":-0.92},{"s":"c","b":"d","h":-193,"m":-0.9},{"s":"c","b":"d","h":-188,"m":-0.93},{"s":"c","b":"d","h":-183,"m":-0.91},{"s":"c","b":"d","h":-178,"m":-0.89},{"s":"c","b":"d","h":-173,"m":-0.92},{"s":"c","b":"d","h":-168,"m":-0.9},{"s":"c","b":"d","h":-163,"m":-0.88},{"s":"c","b":"d","h":-158,"m":-0.91},{"s":"c","b":"d","h":-153,"m":-0.89},{"s":"c","b":"d","h":-148,"m":-0.87},{"s":"c","b":"d","h":-143,"m":-0.87},{"s":"c","b":"d","h":-139,"m":-0.85},{"s":"c","b":"d","h":-135,"m":-0.84},{"s":"c","b":"d","h":-130,"m":-0.82},{"s":"c","b":"d","h":-126,"m":-0.8},{"s":"c","b":"d","h":-122,"m":-0.77},{"s":"c","b":"d","h":-118,"m":-0.74},{"s":"c","b":"d","h":-114,"m":-0.71},{"s":"c","b":"d","h":-111,"m":-0.69},{"s":"c","b":"d","h":-107,"m":-0.64},{"s":"c","b":"d","h":-104,"m":-0.6},{"s":"c","b":"d","h":-101,"m":-0.56},{"s":"c","b":"d","h":-98,"m":-0.52},{"s":"c","b":"d","h":-94,"m":-0.48},{"s":"c","b":"d","h":-90,"m":-0.43},{"s":"c","b":"d","h":-86,"m":-0.37},{"s":"c","b":"d","h":-82,"m":-0.33},{"s":"c","b":"d","h":-79,"m":-0.29},{"s":"c","b":"d","h":-75.5,"m":-0.26},{"s":"c","b":"d","h":-72.0,"m":-0.238},{"s":"c","b":"d","h":-71.0,"m":-0.222},{"s":"c","b":"d","h":-70.7,"m":-0.195},{"s":"c","b":"d","h":-70.2,"m":-0.168},{"s":"c","b":"d","h":-69.4,"m":-0.158},{"s":"c","b":"d","h":-68.9,"m":-0.168},{"s":"c","b":"d","h":-68.4,"m":-0.163},{"s":"c","b":"d","h":-67.7,"m":-0.133},{"s":"c","b":"d","h":-67.1,"m":-0.104},{"s":"c","b":"d","h":-66.4,"m":-0.104},{"s":"c","b":"d","h":-66.0,"m":-0.09},{"s":"c","b":"d","h":-65.3,"m":-0.066},{"s":"c","b":"d","h":-64.4,"m":-0.039},{"s":"c","b":"d","h":-63.8,"m":-0.03},{"s":"c","b":"d","h":-62.8,"m":0},{"s":"c","b":"d","h":-61.8,"m":0.018},{"s":"c","b":"d","h":-61.1,"m":0.04},{"s":"c","b":"d","h":-60.2,"m":0.06},{"s":"c","b":"d","h":-59.5,"m":0.073},{"s":"c","b":"d","h":-58.5,"m":0.11},{"s":"c","b":"d","h":-57.8,"m":0.136},{"s":"c","b":"d","h":-57.2,"m":0.16},{"s":"c","b":"d","h":-56.7,"m":0.16},{"s":"c","b":"d","h":-56.0,"m":0.192},{"s":"c","b":"d","h":-55.5,"m":0.206},{"s":"c","b":"d","h":-54.9,"m":0.24},{"s":"c","b":"d","h":-54,"m":0.27},{"s":"c","b":"d","h":-53,"m":0.31},{"s":"c","b":"d","h":-51,"m":0.39},{"s":"c","b":"d","h":-49,"m":0.48},{"s":"c","b":"d","h":-48,"m":0.54},{"s":"c","b":"d","h":-46,"m":0.62},{"s":"c","b":"d","h":-44,"m":0.68},{"s":"c","b":"d","h":-42,"m":0.73},{"s":"c","b":"d","h":-40,"m":0.76},{"s":"c","b":"d","h":-37,"m":0.79},{"s":"c","b":"d","h":-34,"m":0.82},{"s":"c","b":"d","h":-30,"m":0.84},{"s":"c","b":"d","h":-27,"m":0.86},{"s":"c","b":"d","h":-23,"m":0.87},{"s":"c","b":"d","h":-19,"m":0.89},{"s":"c","b":"d","h":-15,"m":0.91},{"s":"c","b":"d","h":-11,"m":0.9},{"s":"c","b":"d","h":-7,"m":0.93},{"s":"c","b":"d","h":-3,"m":0.92},{"s":"c","b":"d","h":0,"m":0.94},{"s":"c","b":"d","h":4,"m":0.93},{"s":"c","b":"d","h":8,"m":0.96},{"s":"c","b":"d","h":12,"m":0.94},{"s":"c","b":"d","h":16,"m":0.97},{"s":"c","b":"d","h":20,"m":0.95},{"s":"c","b":"d","h":25,"m":0.98},{"s":"c","b":"d","h":30,"m":0.96},{"s":"c","b":"d","h":35,"m":0.99},{"s":"c","b":"d","h":40,"m":0.97},{"s":"c","b":"d","h":45,"m":1.0},{"s":"c","b":"d","h":50,"m":0.98},{"s":"c","b":"d","h":55,"m":1.01},{"s":"c","b":"d","h":60,"m":0.99},{"s":"c","b":"d","h":65,"m":1.02},{"s":"c","b":"d","h":70,"m":0.98},{"s":"c","b":"d","h":75,"m":1.01},{"s":"c","b":"d","h":80,"m":1.03},{"s":"c","b":"d","h":85,"m":0.99},{"s":"c","b":"d","h":90,"m":1.02},{"s":"c","b":"d","h":95,"m":1.0},{"s":"c","b":"d","h":100,"m":0.97},{"s":"c","b":"d","h":105,"m":1.01},{"s":"c","b":"d","h":110,"m":1.03},{"s":"c","b":"d","h":115,"m":0.99},{"s":"c","b":"d","h":120,"m":1.02},{"s":"c","b":"d","h":125,"m":1.0},{"s":"c","b":"d","h":130,"m":0.98},{"s":"c","b":"d","h":135,"m":1.02},{"s":"c","b":"d","h":140,"m":1.04},{"s":"c","b":"d","h":145,"m":1.0},{"s":"c","b":"d","h":150,"m":0.98},{"s":"c","b":"d","h":155,"m":1.01},{"s":"c","b":"d","h":160,"m":0.99},{"s":"c","b":"d","h":165,"m":1.03},{"s":"c","b":"d","h":170,"m":1.0},{"s":"c","b":"d","h":175,"m":0.98},{"s":"c","b":"d","h":180,"m":1.02},{"s":"c","b":"d","h":185,"m":1.0},{"s":"c","b":"d","h":190,"m":1.03},{"s":"c","b":"d","h":195,"m":0.99},{"s":"c","b":"d","h":200,"m":1.01},{"s":"c","b":"d","h":205,"m":0.98},{"s":"c","b":"d","h":210,"m":1.02},{"s":"c","b":"d","h":215,"m":1.0},{"s":"c","b":"d","h":220,"m":0.97},{"s":"c","b":"d","h":225,"m":1.01},{"s":"c","b":"d","h":230,"m":0.99},{"s":"c","b":"d","h":235,"m":1.02},{"s":"c","b":"d","h":240,"m":1.0},{"s":"c","b":"d","h":245,"m":0.97},{"s":"c","b":"d","h":250,"m":1.01},{"s":"c","b":"d","h":255,"m":1.03},{"s":"c","b":"d","h":260,"m":1.0},{"s":"c","b":"d","h":265,"m":0.98},{"s":"c","b":"d","h":270,"m":1.02},{"s":"c","b":"d","h":275,"m":0.99},{"s":"c","b":"d","h":280,"m":1.01},{"s":"c","b":"d","h":285,"m":1.03},{"s":"c","b":"d","h":290,"m":0.99},{"s":"c","b":"d","h":295,"m":0.97},{"s":"c","b":"d","h":300,"m":1.01},{"s":"c","b":"d","h":305,"m":0.99},{"s":"c","b":"d","h":310,"m":1.02},{"s":"c","b":"d","h":315,"m":1.0},{"s":"c","b":"d","h":320,"m":0.98},{"s":"c","b":"d","h":325,"m":1.01},{"s":"c","b":"d","h":330,"m":0.99},{"s":"c","b":"d","h":335,"m":1.02},{"s":"c","b":"d","h":340,"m":1.0},{"s":"c","b":"d","h":344,"m":1.01}
],
"zn":[
{"s":"a","h":-49.65,"m":-0.24},{"s":"a","h":-49.3,"m":-0.17},{"s":"a","h":-49.0,"m":-0.1},{"s":"a","h":-48.7,"m":-0.04},{"s":"a","h":-48.45,"m":0},{"s":"a","h":-48.2,"m":0.05},{"s":"a","h":-47.9,"m":0.11},{"s":"a","h":-47.6,"m":0.17},{"s":"a","h":-47.3,"m":0.24},
{"s":"b","h":-53.5,"m":-0.24},{"s":"b","h":-53.2,"m":-0.19},{"s":"b","h":-52.9,"m":-0.14},{"s":"b","h":-52.6,"m":-0.11},{"s":"b","h":-52.2,"m":-0.08},{"s":"b","h":-51.8,"m":-0.056},{"s":"b","h":-51.5,"m":0},{"s":"b","h":-51.3,"m":0.04},{"s":"b","h":-51.2,"m":0.06},{"s":"b","h":-50.9,"m":0.03},{"s":"b","h":-50.7,"m":0.08},{"s":"b","h":-50.4,"m":0.16},{"s":"b","h":-50.1,"m":0.207},{"s":"b","h":-49.8,"m":0.205},{"s":"b","h":-49.4,"m":0.207},{"s":"b","h":-49.0,"m":0.24},
{"s":"c","h":-72,"m":-0.238},{"s":"c","h":-71.5,"m":-0.232},{"s":"c","h":-71,"m":-0.222},{"s":"c","h":-70.7,"m":-0.195},{"s":"c","h":-70.2,"m":-0.168},{"s":"c","h":-69.8,"m":-0.16},{"s":"c","h":-69.4,"m":-0.158},{"s":"c","h":-68.9,"m":-0.168},{"s":"c","h":-68.4,"m":-0.163},{"s":"c","h":-67.7,"m":-0.133},{"s":"c","h":-67.1,"m":-0.104},{"s":"c","h":-66.4,"m":-0.104},{"s":"c","h":-66,"m":-0.09},{"s":"c","h":-65.3,"m":-0.066},{"s":"c","h":-64.4,"m":-0.039},{"s":"c","h":-63.8,"m":-0.03},{"s":"c","h":-62.8,"m":0},{"s":"c","h":-61.8,"m":0.018},{"s":"c","h":-61.1,"m":0.04},{"s":"c","h":-60.2,"m":0.06},{"s":"c","h":-59.5,"m":0.073},{"s":"c","h":-58.5,"m":0.11},{"s":"c","h":-57.8,"m":0.136},{"s":"c","h":-57.2,"m":0.16},{"s":"c","h":-56.7,"m":0.16},{"s":"c","h":-56,"m":0.192},{"s":"c","h":-55.5,"m":0.206},{"s":"c","h":-54.9,"m":0.24}
],
"zp":[
{"s":"a","h":45.75,"m":-0.24},{"s":"a","h":46.3,"m":-0.158},{"s":"a","h":47.3,"m":-0.104},{"s":"a","h":48.2,"m":0},{"s":"a","h":48.7,"m":0.093},{"s":"a","h":49.2,"m":0.17},{"s":"a","h":49.9,"m":0.24},
{"s":"b","h":51.55,"m":-0.24},{"s":"b","h":52.1,"m":-0.2},{"s":"b","h":52.5,"m":-0.2},{"s":"b","h":52.9,"m":-0.16},{"s":"b","h":53.2,"m":-0.14},{"s":"b","h":53.4,"m":-0.17},{"s":"b","h":53.6,"m":-0.1},{"s":"b","h":53.75,"m":-0.073},{"s":"b","h":54.2,"m":-0.08},{"s":"b","h":55,"m":0},{"s":"b","h":55.4,"m":0.055},{"s":"b","h":56.1,"m":0.066},{"s":"b","h":56.6,"m":0.142},{"s":"b","h":57,"m":0.126},{"s":"b","h":57.3,"m":0.207},{"s":"b","h":57.7,"m":0.21},{"s":"b","h":58.3,"m":0.24},
{"s":"c","h":57.2,"m":-0.24},{"s":"c","h":58,"m":-0.215},{"s":"c","h":59.1,"m":-0.215},{"s":"c","h":59.7,"m":-0.226},{"s":"c","h":60.6,"m":-0.18},{"s":"c","h":61.3,"m":-0.137},{"s":"c","h":62.2,"m":-0.106},{"s":"c","h":63.1,"m":-0.087},{"s":"c","h":64,"m":-0.047},{"s":"c","h":64.9,"m":-0.014},{"s":"c","h":65.5,"m":0},{"s":"c","h":66.3,"m":0.038},{"s":"c","h":67,"m":0.041},{"s":"c","h":67.8,"m":0.071},{"s":"c","h":68.5,"m":0.087},{"s":"c","h":69.1,"m":0.082},{"s":"c","h":69.9,"m":0.098},{"s":"c","h":70.6,"m":0.131},{"s":"c","h":71.7,"m":0.15},{"s":"c","h":72.7,"m":0.153},{"s":"c","h":73.4,"m":0.186},{"s":"c","h":74.3,"m":0.227},{"s":"c","h":75,"m":0.225},{"s":"c","h":75.7,"m":0.23},{"s":"c","h":76.3,"m":0.24}
]
},
"layer":[
{"layer":[
 {"data":{"name":"loops"},"mark":{"type":"line","strokeWidth":1.3},
  "encoding":{
   "x":{"field":"h","type":"quantitative","scale":{"domain":[-400,400],"nice":false,"zero":false},
    "axis":{"orient":"bottom","values":[-400,-350,-300,-250,-200,-150,-100,-50,0,50,100,150,200,250,300,350,400],
     "labelExpr":"datum.value % 100 == 0 ? (datum.value < 0 ? '-' : '') + abs(datum.value) : ''",
     "tickSize":{"condition":{"test":"datum.value % 100 == 0","value":8},"value":5},
     "labelPadding":5,"labelFontSize":17,"domainWidth":1.3,"tickWidth":1.3,
     "title":"μ₀H (mT)","titleFontSize":21,"titlePadding":13}},
   "y":{"field":"m","type":"quantitative","scale":{"domain":[-1.4,1.4],"nice":false,"zero":false},
    "axis":{"orient":"left","values":[-1.4,-1.2,-1,-0.8,-0.6,-0.4,-0.2,0,0.2,0.4,0.6,0.8,1,1.2,1.4],
     "labelExpr":"abs(round(datum.value*10)) % 4 == 2 ? (datum.value < 0 ? '-' : '') + format(abs(datum.value), '.1f') : ''",
     "tickSize":{"condition":{"test":"abs(round(datum.value*10)) % 4 == 2","value":8},"value":5},
     "labelPadding":9,"labelFontSize":17,"domainWidth":1.3,"tickWidth":1.3,
     "title":"Normalized Kerr signal (a.u.)","titleFontSize":22,"titlePadding":4}},
   "color":{"field":"s","type":"nominal","scale":{"domain":["a","b","c"],"range":["#444444","#ef3b3b","#1f6fe6"]},
    "legend":{"title":null,"orient":"none","legendX":313,"legendY":-52,"direction":"vertical","strokeColor":"black","fillColor":"white","padding":4,
     "symbolType":"M-2.5,0H2.5","symbolSize":400,"symbolOffset":14.5,"symbolStrokeWidth":1.5,"labelOffset":19,
     "labelFontSize":21,"labelColor":"black","labelLimit":0,"rowPadding":8,
     "labelExpr":"datum.label == 'a' ? 'Co/CoO' : datum.label == 'b' ? 'Co/CoO/C₆₀' : 'Co/CoO/Gaq₃'"}},
   "detail":{"field":"b"}
  }},
 {"data":{"values":[{}]},"mark":{"type":"rule","color":"black","strokeWidth":1.3},"encoding":{"x":{"datum":-400},"x2":{"datum":400},"y":{"datum":0}}},
 {"data":{"values":[{}]},"mark":{"type":"rule","color":"black","strokeWidth":1.3},"encoding":{"x":{"datum":0},"y":{"datum":-1.4},"y2":{"datum":1.4}}},
 {"data":{"values":[{}]},"mark":{"type":"text","text":"T=90K","fontSize":20,"align":"center","baseline":"middle","color":"black"},"encoding":{"x":{"datum":-110},"y":{"datum":1.38}}}
]},
{"layer":[
 {"data":{"values":[{}]},"mark":{"type":"rule","color":"black","strokeWidth":1},"encoding":{"x":{"datum":-72},"x2":{"datum":-38},"y":{"datum":0}}},
 {"data":{"name":"zn"},"mark":{"type":"line","strokeWidth":1.3},
  "encoding":{
   "x":{"field":"h","type":"quantitative","scale":{"domain":[-72,-38],"range":[39.5,211.5],"nice":false,"zero":false},
    "axis":{"orient":"bottom","offset":-244,"values":[-70,-65,-60,-55,-50,-45,-40],
     "labelExpr":"datum.value % 10 == 0 ? '-' + abs(datum.value) : ''",
     "tickSize":{"condition":{"test":"datum.value % 10 == 0","value":-4},"value":-2.5},
     "labelPadding":6,"labelFontSize":13,"title":null,"domainColor":"black","tickColor":"black"}},
   "y":{"field":"m","type":"quantitative","scale":{"domain":[-0.24,0.24],"range":[186,36.3],"nice":false,"zero":false},
    "axis":{"orient":"left","offset":-39.5,"values":[-0.2,-0.15,-0.1,-0.05,0,0.05,0.1,0.15,0.2],
     "labelExpr":"abs(round(datum.value*100)) % 10 == 0 ? (datum.value < -0.001 ? '-' : '') + format(abs(datum.value), '.1f') : ''",
     "tickSize":{"condition":{"test":"abs(round(datum.value*100)) % 10 == 0","value":-4},"value":-2.5},
     "labelPadding":12,"labelFontSize":13,"title":null,"domainColor":"black","tickColor":"black"}},
   "color":{"field":"s","type":"nominal","scale":{"domain":["a","b","c"],"range":["#000000","#ff0000","#0000ff"]},"legend":null}
  }}
]},
{"layer":[
 {"data":{"values":[{}]},"mark":{"type":"rule","color":"#555555","strokeWidth":1.2},"encoding":{"x":{"datum":39},"x2":{"datum":78},"y":{"datum":0}}},
 {"data":{"name":"zp"},"mark":{"type":"line","strokeWidth":1.3},
  "encoding":{
   "x":{"field":"h","type":"quantitative","scale":{"domain":[39,78],"range":[359.5,540],"nice":false,"zero":false},
    "axis":{"orient":"bottom","offset":-39.7,"values":[40,45,50,55,60,65,70,75],
     "labelExpr":"datum.value % 10 == 0 ? '' + datum.value : ''",
     "tickSize":{"condition":{"test":"datum.value % 10 == 0","value":-4},"value":-2.5},
     "labelPadding":6,"labelFontSize":13,"title":null,"domainColor":"black","tickColor":"black"}},
   "y":{"field":"m","type":"quantitative","scale":{"domain":[-0.24,0.24],"range":[390.3,243],"nice":false,"zero":false},
    "axis":{"orient":"left","offset":-359.5,"values":[-0.2,-0.15,-0.1,-0.05,0,0.05,0.1,0.15,0.2],
     "labelExpr":"abs(round(datum.value*100)) % 10 == 0 ? (datum.value < -0.001 ? '-' : '') + format(abs(datum.value), '.1f') : ''",
     "tickSize":{"condition":{"test":"abs(round(datum.value*100)) % 10 == 0","value":-4},"value":-2.5},
     "labelPadding":12,"labelFontSize":13,"title":null,"domainColor":"black","tickColor":"black"}},
   "color":{"field":"s","type":"nominal","scale":{"domain":["a","b","c"],"range":["#000000","#ff0000","#0000ff"]},"legend":null}
  }}
]}
],
"resolve":{"scale":{"x":"independent","y":"independent","color":"independent"}}
}
